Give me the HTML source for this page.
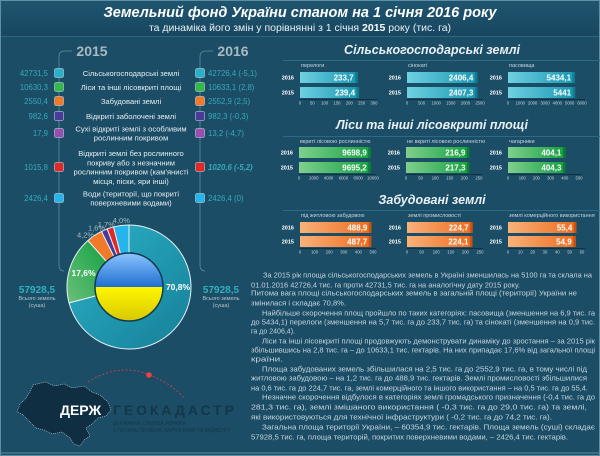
<!DOCTYPE html>
<html><head><meta charset="utf-8">
<style>
html,body{margin:0;padding:0;background:#1c4d66;}
svg{display:block;font-family:"Liberation Sans","DejaVu Sans",sans-serif;}
</style></head>
<body>
<svg id="root" width="600" height="456" viewBox="0 0 600 456" xmlns="http://www.w3.org/2000/svg">
<defs>
<linearGradient id="hdr" x1="0" y1="0" x2="0" y2="1"><stop offset="0" stop-color="#1f5570"/><stop offset="1" stop-color="#184760"/></linearGradient>
<linearGradient id="gTeal" x1="0" x2="1"><stop offset="0" stop-color="#6fd0e2"/><stop offset="1" stop-color="#1797b0"/></linearGradient>
<linearGradient id="gGreen" x1="0" x2="1"><stop offset="0" stop-color="#7fd08c"/><stop offset="1" stop-color="#14a040"/></linearGradient>
<linearGradient id="gOrange" x1="0" x2="1"><stop offset="0" stop-color="#f8b27a"/><stop offset="1" stop-color="#ee6a1c"/></linearGradient>
<linearGradient id="flagB" x1="0" y1="0" x2="0" y2="1"><stop offset="0" stop-color="#8cc4ff"/><stop offset="1" stop-color="#1f6fd0"/></linearGradient>
<linearGradient id="flagY" x1="0" y1="0" x2="0" y2="1"><stop offset="0" stop-color="#fff700"/><stop offset="1" stop-color="#d8c800"/></linearGradient>
<linearGradient id="dTeal" x1="0" y1="0" x2="1" y2="1"><stop offset="0" stop-color="#2cb2c8"/><stop offset="1" stop-color="#157f97"/></linearGradient>
<linearGradient id="dGreen" x1="0" y1="1" x2="1" y2="0"><stop offset="0" stop-color="#6cc07a"/><stop offset="1" stop-color="#12a043"/></linearGradient>
</defs>
<rect x="0" y="0" width="600" height="456" fill="#1c4d66"/>
<rect x="0" y="0" width="600" height="36" fill="url(#hdr)"/>
<line x1="0" y1="36.5" x2="600" y2="36.5" stroke="#2d6680" stroke-width="1"/>
<rect x="0.5" y="0.5" width="599" height="455" fill="none" stroke="#5f8fa5" stroke-width="1"/>
<text x="300" y="17" text-anchor="middle" fill="#fff" font-size="14.5" font-weight="bold" font-style="italic">Земельний фонд України станом на 1 січня 2016 року</text>
<text x="300" y="31" text-anchor="middle" fill="#e8f0f4" font-size="10.5">та динаміка його змін у порівнянні з 1 січня <tspan font-weight="bold" fill="#fff">2015</tspan> року (тис. га)</text>

<g id="legend">
<path d="M59 265 L59 57 Q59 51 65 51 L72 51" fill="none" stroke="#5d8ea3" stroke-width="0.8"/>
<path d="M200 265 L200 57 Q200 51 206 51 L213 51" fill="none" stroke="#5d8ea3" stroke-width="0.8"/>
<path d="M59 265 Q59 271 64 271" fill="none" stroke="#5d8ea3" stroke-width="0.8"/>
<path d="M200 265 Q200 271 205 271" fill="none" stroke="#5d8ea3" stroke-width="0.8"/>
<text x="92" y="56" text-anchor="middle" fill="#a9b9c2" font-size="14" font-weight="bold">2015</text>
<text x="233" y="56" text-anchor="middle" fill="#a9b9c2" font-size="14" font-weight="bold">2016</text>
</g>

<g id="donut"></g>

<text x="37" y="293" text-anchor="middle" fill="#2fb0bf" font-size="10" font-weight="bold">57928,5</text>
<text x="37" y="300" text-anchor="middle" fill="#b8c8d0" font-size="5.5">Всього земель</text>
<text x="37" y="307" text-anchor="middle" fill="#b8c8d0" font-size="5.5">(суша)</text>
<text x="221" y="293" text-anchor="middle" fill="#2fb0bf" font-size="10" font-weight="bold">57928,5</text>
<text x="221" y="300" text-anchor="middle" fill="#b8c8d0" font-size="5.5">Всього земель</text>
<text x="221" y="307" text-anchor="middle" fill="#b8c8d0" font-size="5.5">(суша)</text>

<g>
<path d="M88 382 Q120 362 150 375 Q172 384 184 398" fill="none" stroke="#e04040" stroke-width="0.8" stroke-dasharray="2 2"/>
<circle cx="149" cy="375" r="2.8" fill="#f04040"/>
<path d="M33 385 L45 382 L55 386 L64 384 L72 388 L84 386 L92 392 L100 395 L108 402 L111 410 L106 416 L98 418 L92 424 L86 428 L90 436 L84 440 L80 446 L74 444 L70 438 L62 432 L52 434 L44 430 L36 428 L28 420 L22 414 L17 412 L20 404 L26 398 L30 392 Z" fill="#0f2e42" stroke="#c8d6de" stroke-width="0.6" stroke-dasharray="1 1"/>
<text x="60" y="415" fill="#ffffff" font-size="14" font-weight="bold">ДЕРЖ</text>
<text x="113" y="415" fill="#143649" font-size="14" font-weight="bold" textLength="121">ГЕОКАДАСТР</text>
<text x="113" y="425" fill="#143649" font-size="5">ДЕРЖАВНА СЛУЖБА УКРАЇНИ</text>
<text x="113" y="432" fill="#143649" font-size="5">З ПИТАНЬ ГЕОДЕЗІЇ, КАРТОГРАФІЇ ТА КАДАСТРУ</text>
</g>

<g id="charts"></g>
<g id="para"></g>
<line x1="0" y1="453" x2="600" y2="453" stroke="#5f8fa5" stroke-width="1"/>
</svg>
<script>
const legendLabels = [
 ["Сільськогосподарські землі"],
 ["Ліси та інші лісовкриті площі"],
 ["Забудовані землі"],
 ["Відкриті заболочені землі"],
 ["Сухі відкриті землі з особливим","рослинним покривом"],
 ["Відкриті землі без рослинного","покриву або з незначним","рослинним покривом (кам'янисті","місця, піски, яри інші)"],
 ["Води (території, що покриті","поверхневими водами)"]
];
const values2015 = ["42731,5","10630,3","2550,4","982,6","17,9","1015,8","2426,4"];
const values2016 = ["42726,4 (-5,1)","10633,1 (2,8)","2552,9 (2,5)","982,3 (-0,3)","13,2 (-4,7)","1020,6 (-5,2)","2426,4 (0)"];
const legendColors = ["#2ab0c8","#35b84a","#f07a2a","#4a3a9a","#9a4db0","#e02828","#25b4ec"];
const rowY = [73,87,101,116,133,167,198];

const donutShares = [70.8,17.6,4.2,1.6,1.7,4.0];
const donutLabels = ["70,8%","17,6%","4,2%","1,6%","1,7%","4,0%"];
const donutFills = ["url(#dTeal)","url(#dGreen)","#f07a2a","#4a3a9a","#e02828","#25b4ec"];

const sectionTitles = ["Сільськогосподарські землі","Ліси та інші лісовкриті площі","Забудовані землі"];
const panelLabels = [["перелоги","сінокаті","пасовища"],["вкриті лісовою рослинністю","не вкриті лісовою рослинністю","чагарники"],["під житловою забудовою","землі промисловості","землі комерційного використання"]];
const bars2016 = [[233.7,2406.4,5434.1],[9698.9,216.9,404.1],[488.9,224.7,55.4]];
const bars2015 = [[239.4,2407.3,5441],[9695.2,217.3,404.3],[487.7,224.1,54.9]];
const labels2016 = [["233,7","2406,4","5434,1"],["9698,9","216,9","404,1"],["488,9","224,7","55,4"]];
const labels2015 = [["239,4","2407,3","5441"],["9695,2","217,3","404,3"],["487,7","224,1","54,9"]];
const axisMax = [[300,2500,6000],[10000,250,500],[500,250,60]];
const tickStep = [[50,500,1000],[2000,50,100],[100,50,10]];

const NS="http://www.w3.org/2000/svg";
function mk(tag,attrs,parent,txt){const e=document.createElementNS(NS,tag);for(const k in attrs)e.setAttribute(k,attrs[k]);if(txt!==undefined)e.textContent=txt;parent.appendChild(e);return e;}

const lg=document.getElementById('legend');
legendLabels.forEach((lines,i)=>{
  const y=rowY[i];
  const s1=mk('rect',{x:54.5,y:y-4.5,width:9,height:9,rx:1.5,fill:legendColors[i],stroke:'#cfe3ea','stroke-width':0.5},lg);
  
  
  const s2=mk('rect',{x:195.5,y:y-4.5,width:9,height:9,rx:1.5,fill:legendColors[i],stroke:'#cfe3ea','stroke-width':0.5},lg);
  
  
  const v1=mk('text',{x:48,y:y+3,'text-anchor':'end',fill:'#36a9b9','font-size':7.8},lg,values2015[i]);
  
  
  const v2=mk('text',{x:208,y:y+3,fill:'#36a9b9','font-size':7.8,'font-style':i==5?'italic':'normal','font-weight':i==5?'bold':'normal'},lg,values2016[i]);
  
  
  const n=lines.length, lh=9.3;
  lines.forEach((ln,j)=>{
    const t=mk('text',{x:131,y:y+3+(j-(n-1)/2)*lh,'text-anchor':'middle',fill:'#e6eef2','font-size':7.6},lg,ln);
    
    
  });
});

const dg=document.getElementById('donut');
const cx=129,cy=287,R=62,r=33;
const total=donutShares.reduce((a,b)=>a+b,0);
const smallShift=[0,0,-5,-5,-2,1];
let acc=0;
function pt(a,rad){return [cx+rad*Math.sin(a),cy-rad*Math.cos(a)];}
donutShares.forEach((v,i)=>{
  const a0=acc/total*2*Math.PI; acc+=v; const a1=acc/total*2*Math.PI;
  const large=(a1-a0)>Math.PI?1:0;
  const [x0,y0]=pt(a0,R),[x1,y1]=pt(a1,R),[x2,y2]=pt(a1,r),[x3,y3]=pt(a0,r);
  const p=mk('path',{d:`M${x0} ${y0} A${R} ${R} 0 ${large} 1 ${x1} ${y1} L${x2} ${y2} A${r} ${r} 0 ${large} 0 ${x3} ${y3}Z`,fill:donutFills[i],stroke:'#e8f2f5','stroke-width':1},dg);
  
  
  const mid=(a0+a1)/2;
  let lp,col='#a9b9c2',fw='normal',fs=7.5;
  if(i===0){lp=[cx+49,cy];col='#fff';fw='bold';fs=8.5;}
  else if(i===1){lp=pt(mid,(R+r)/2);col='#fff';fw='bold';fs=8.5;}
  else {lp=pt(mid,R+7);lp=[lp[0]+smallShift[i],lp[1]+5-(i-2)*1.2];}
  const t=mk('text',{x:lp[0],y:lp[1]+3,'text-anchor':'middle',fill:col,'font-size':fs,'font-weight':fw},dg,donutLabels[i]);
  
  
});
mk('path',{d:`M${cx-34} ${cy} A34 34 0 0 1 ${cx+34} ${cy}Z`,fill:'url(#flagB)'},dg);
mk('path',{d:`M${cx-34} ${cy} A34 34 0 0 0 ${cx+34} ${cy}Z`,fill:'url(#flagY)'},dg);
mk('circle',{cx:cx,cy:cy,r:34,fill:'none',stroke:'#123a50','stroke-width':1.5},dg);

const cg=document.getElementById('charts');
const secTitleY=[54,129,204], secLineY=[60,136,210];
const colX0=[[300,407,508],[299,406,508],[300,407,508]];
const colW=[[74,73,74],[74,73,71],[73,73,74]];
const barTop=[[72,87],[147,162],[222,236]];
const barFills=["url(#gTeal)","url(#gGreen)","url(#gOrange)"];
const endFills=["#137a90","#0b7d34","#c85414"];
sectionTitles.forEach((title,s)=>{
  const t=mk('text',{x:432,y:secTitleY[s],'text-anchor':'middle',fill:'#e8f0f4','font-size':12.5,'font-weight':'bold','font-style':'italic'},cg,title);
  
  
  mk('line',{x1:283,y1:secLineY[s]+0.5,x2:600,y2:secLineY[s]+0.5,stroke:'#2f6a85','stroke-width':1},cg);
  [0,1,2].forEach(c=>{
    const x0=colX0[s][c],w=colW[s][c],mx=axisMax[s][c];
    const xs=v=>x0+v/mx*w;
    const lb=mk('text',{x:x0+1,y:secLineY[s]+7,fill:'#c8d6de','font-size':5.5},cg,panelLabels[s][c]);
    
    
    const rows=[[bars2016[s][c],labels2016[s][c],'2016'],[bars2015[s][c],labels2015[s][c],'2015']];
    rows.forEach((rw,k)=>{
      const y=barTop[s][k];
      const yl=mk('text',{x:x0-6,y:y+7.5,'text-anchor':'end',fill:'#fff','font-size':5.5,'font-weight':'bold'},cg,rw[2]);
      
      
      const bw=xs(rw[0])-x0;
      const b=mk('rect',{x:x0,y:y,width:bw,height:11,fill:barFills[s]},cg);
      
      
      mk('rect',{x:x0+bw-2.5,y:y,width:2.5,height:11,fill:endFills[s]},cg);
      const vl=mk('text',{x:x0+bw-4,y:y+8.3,'text-anchor':'end',fill:'#fff','font-size':8,'font-weight':'bold'},cg,rw[1]);
      
      
    });
    const ay=barTop[s][1]+12.5;
    mk('line',{x1:x0,y1:ay,x2:x0+w+3,y2:ay,stroke:'#0e2a3a','stroke-width':0.8},cg);
    for(let v=0;v<=mx+1e-9;v+=tickStep[s][c]){
      const tl=mk('text',{x:xs(v),y:ay+5,'text-anchor':'middle',fill:'#c8d6de','font-size':4.2},cg,String(v));
      
      
    }
  });
});

const paraLines=[
 [263,275,592,"За 2015 рік площа  сільськогосподарських земель в Україні зменшилась на 5100 га та склала на"],
 [251,285,520,"01.01.2016  42726,4 тис. га проти 42731,5 тис. га на аналогічну дату 2015  року."],
 [251,293,577,"Питома вага площі  сільськогосподарських земель в загальній площі (території) України не"],
 [251,303,346,"змінилася і складає 70,8%."],
 [262,313,595,"Найбільше скорочення площ пройшло по таких категоріях: пасовища (зменшення на 6,9 тис. га"],
 [251,322,595,"до 5434,1) перелоги (зменшення на 5,7 тис. га до 233,7 тис. га) та  сінокаті (зменшення  на 0,9 тис."],
 [251,331,295,"га до 2406,4)."],
 [262,341,595,"Ліси та інші лісовкриті площі  продовжують демонструвати динаміку до зростання – за 2015 рік"],
 [251,350,595,"збільшившись на 2,8 тис. га – до 10633,1  тис. гектарів. На них припадає 17,6% від загальної площі"],
 [251,359,283,"країни."],
 [262,369,587,"Площа забудованих земель збільшилася на 2,5 тис. га  до 2552,9 тис. га,  в тому числі під"],
 [251,378,587,"житловою забудовою – на 1,2 тис. га  до 488,9 тис. гектарів. Землі промисловості збільшилися"],
 [251,388,588,"на 0,6 тис. га до 224,7 тис. га,  землі комерційного та іншого використання – на 0,5 тис. га до 55,4."],
 [262,397,595,"Незначне скорочення відбулося в категоріях землі громадського призначення (-0,4 тис.  га до"],
 [251,407,587,"281,3 тис.  га), землі змішаного використання ( -0,3 тис. га до 29,0 тис. га) та землі,"],
 [251,417,552,"які використовуються для технічної інфраструктури ( -0,2 тис. га до 74,2 тис. га)."],
 [262,427,595,"Загальна площа території  України,  – 60354,9 тис. гектарів. Площа земель (суші) складає"],
 [251,437,568,"57928,5 тис. га, площа територій, покритих поверхневими водами, – 2426,4 тис. гектарів."]
];
const pg=document.getElementById('para');
paraLines.forEach(l=>{
  const t=mk('text',{x:l[0],y:l[1]+2.5,fill:'#c5d5dd','font-size':7.4,textLength:l[2]-l[0],lengthAdjust:'spacingAndGlyphs'},pg,l[3]);
  
  
});
</script>
</body></html>
